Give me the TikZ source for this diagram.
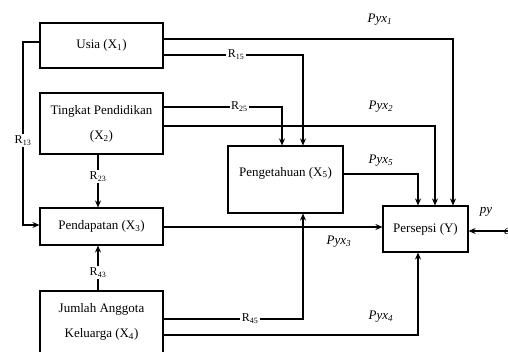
\documentclass[tikz,border=0pt]{standalone}
\usepackage{fontspec}
\setmainfont{Liberation Serif}
\usetikzlibrary{arrows.meta}
\begin{document}
\begin{tikzpicture}[x=1pt,y=-1pt,
  box/.style={draw,line width=1.1pt,inner sep=0pt,align=center,font=\fontsize{13}{25}\selectfont},
  conn/.style={line width=1.1pt},
  arr/.style={conn,-{Stealth[length=7pt,width=6pt]}},
  rlab/.style={fill=white,inner sep=1.5pt,font=\fontsize{12}{13}\selectfont},
  plab/.style={inner sep=0pt,font=\fontsize{13}{14}\selectfont\itshape}]
\clip (0,0) rectangle (508,352);
\useasboundingbox (0,0) rectangle (508,352);
% boxes
\node[box,minimum width=123pt,minimum height=45pt] (usia) at (101.5,45.5) {Usia (X\textsubscript{1})};
\node[box,minimum width=123pt,minimum height=61pt] (tingkat) at (101.5,123.5) {Tingkat Pendidikan\\(X\textsubscript{2})};
\node[box,minimum width=123pt,minimum height=37pt] (pendapatan) at (101.5,226.5) {Pendapatan (X\textsubscript{3})};
\node[box,minimum width=123pt,minimum height=62pt] (jumlah) at (101.5,322) {Jumlah Anggota\\Keluarga (X\textsubscript{4})};
\node[box,minimum width=115pt,minimum height=67pt,text depth=16pt] (pengetahuan) at (285.5,179.5) {Pengetahuan (X\textsubscript{5})};
\node[box,minimum width=85pt,minimum height=46pt] (persepsi) at (425.5,229) {Persepsi (Y)};
% coordinates
\coordinate (e) at (508,231);
% connectors
\draw[arr] (usia.east |- 0,39) -| (persepsi.north -| 453,0);
\draw[arr] (usia.east |- 0,55) -| node[rlab,pos=0.26]{R\textsubscript{15}} (pengetahuan.north -| 303,0);
\draw[arr] (tingkat.east |- 0,107) -| node[rlab,pos=0.32]{R\textsubscript{25}} (pengetahuan.north -| 282,0);
\draw[arr] (tingkat.east |- 0,126) -| (persepsi.north -| 435,0);
\draw[arr] (pengetahuan.east |- 0,174) -| (persepsi.north -| 418,0);
\draw[arr] (pendapatan.east |- 0,227) -- (persepsi.west |- 0,227);
\draw[arr] (jumlah.east |- 0,319) -| node[rlab,pos=0.31]{R\textsubscript{45}} (pengetahuan.south -| 303,0);
\draw[arr] (jumlah.east |- 0,335) -| (persepsi.south -| 418,0);
\draw[arr] (e) -- (persepsi.east |- e);
\draw[arr] (usia.west |- 0,42) -| node[rlab,pos=0.77]{R\textsubscript{13}} (23,225) -- (pendapatan.west |- 0,225);
\draw[arr] (tingkat.south -| 98,0) -- node[rlab,pos=0.42]{R\textsubscript{23}} (pendapatan.north -| 98,0);
\draw[arr] (jumlah.north -| 98,0) -- node[rlab,pos=0.4]{R\textsubscript{43}} (pendapatan.south -| 98,0);
% labels
\node[plab] (p1) at (380,20) {Pyx\textsubscript{1}};
\node[plab] (p2) at (381,107) {Pyx\textsubscript{2}};
\node[plab] (p5) at (381,161) {Pyx\textsubscript{5}};
\node[plab] (p3) at (339,242) {Pyx\textsubscript{3}};
\node[plab] (p4) at (381,317) {Pyx\textsubscript{4}};
\node[plab] (py) at (486,212) {py};
\node[plab,anchor=west] (el) at (504,232) {e};
\end{tikzpicture}
\end{document}
